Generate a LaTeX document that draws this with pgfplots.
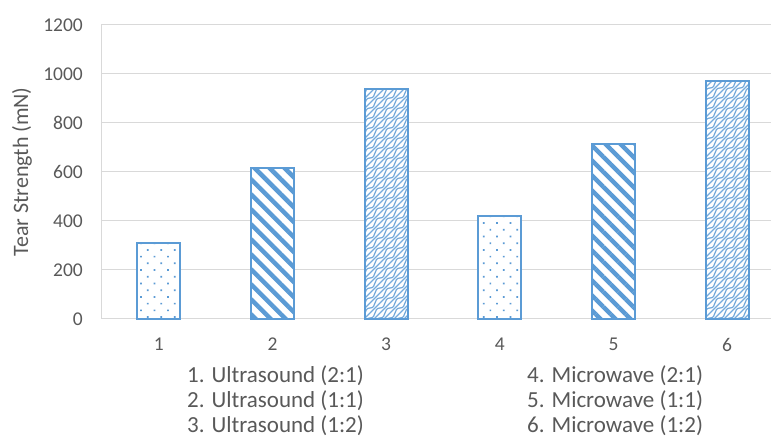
\documentclass[border=0pt]{standalone}
\usepackage{fontspec}
\setmainfont{Carlito}
\usepackage{pgfplots}
\pgfplotsset{compat=1.18}
\usetikzlibrary{patterns.meta}

\definecolor{barblue}{HTML}{5B9BD5}
\definecolor{txtgray}{HTML}{595959}
\definecolor{gridgray}{HTML}{D9D9D9}

% woven texture for bars 3 and 6
\pgfdeclarepattern{
  name=weave, type=uncolored,
  bottom left={\pgfpoint{-1pt}{-1pt}}, top right={\pgfpoint{11pt}{11pt}},
  tile size={\pgfpoint{10pt}{10pt}},
  code={
    \pgfsetlinewidth{1.2pt}
    \pgfpathmoveto{\pgfpoint{0pt}{0pt}}
    \pgfpathcurveto{\pgfpoint{7pt}{0pt}}{\pgfpoint{3pt}{10pt}}{\pgfpoint{10pt}{10pt}}
    \pgfpathmoveto{\pgfpoint{0pt}{5pt}}
    \pgfpathcurveto{\pgfpoint{2pt}{7pt}}{\pgfpoint{3pt}{8pt}}{\pgfpoint{5pt}{10pt}}
    \pgfpathmoveto{\pgfpoint{5pt}{0pt}}
    \pgfpathcurveto{\pgfpoint{7pt}{2pt}}{\pgfpoint{8pt}{3pt}}{\pgfpoint{10pt}{5pt}}
    \pgfusepath{stroke}
  }
}

\begin{document}
\begin{tikzpicture}
\begin{axis}[
  scale only axis, width=682pt, height=294pt,
  xmin=0.5, xmax=6.5, ymin=0, ymax=1200,
  ytick={0,200,...,1200}, xtick={1,...,6},
  ymajorgrids, grid style={gridgray, line width=1pt},
  axis line style={gridgray, line width=1pt},
  major tick length=0pt,
  tick label style={txtgray, font=\fontsize{19.5}{22}\selectfont},
  yticklabel style={anchor=east, inner sep=0pt, xshift=-19pt},
  xticklabel style={anchor=north, inner sep=0pt, yshift=-19pt},
  /pgf/number format/assume math mode=true,
  /pgf/number format/1000 sep={},
  ylabel={Tear Strength (mN)},
  ylabel style={txtgray, font=\fontsize{22}{26}\selectfont,
    at={(axis description cs:-0.1173,0.5)}, anchor=center},
  ybar, bar width=43pt,
  clip=false,
]
\addplot[bar shift=0pt, draw=barblue, line width=2.2pt, fill=white,
  postaction={pattern={Dots[distance=9.5pt, angle=45, radius=1.2pt]}, pattern color=barblue}]
  coordinates {(1,310) (4,420)};
\addplot[bar shift=0pt, draw=barblue, line width=2.2pt, fill=white,
  postaction={pattern={Lines[angle=-45, distance=10.6pt, line width=4.5pt]}, pattern color=barblue}]
  coordinates {(2,615) (5,714)};
\addplot[bar shift=0pt, draw=barblue, line width=2.2pt, fill=white,
  postaction={pattern=weave, pattern color=barblue!85}]
  coordinates {(3,940) (6,970)};
\coordinate (O) at (rel axis cs:0,0);
\end{axis}
\begin{scope}[every node/.style={txtgray, anchor=base west, inner sep=0pt,
    font=\fontsize{23}{26}\selectfont}]
\node at ([shift={(85pt,-64pt)}]O) {1. Ultrasound (2:1)};
\node at ([shift={(85pt,-89pt)}]O) {2. Ultrasound (1:1)};
\node at ([shift={(85pt,-114pt)}]O) {3. Ultrasound (1:2)};
\node at ([shift={(425pt,-64pt)}]O) {4. Microwave (2:1)};
\node at ([shift={(425pt,-89pt)}]O) {5. Microwave (1:1)};
\node at ([shift={(425pt,-114pt)}]O) {6. Microwave (1:2)};
\end{scope}
\pgfresetboundingbox
\path ([shift={(-102pt,-119pt)}]O) rectangle ([shift={(669pt,319pt)}]O);
\end{tikzpicture}
\end{document}
